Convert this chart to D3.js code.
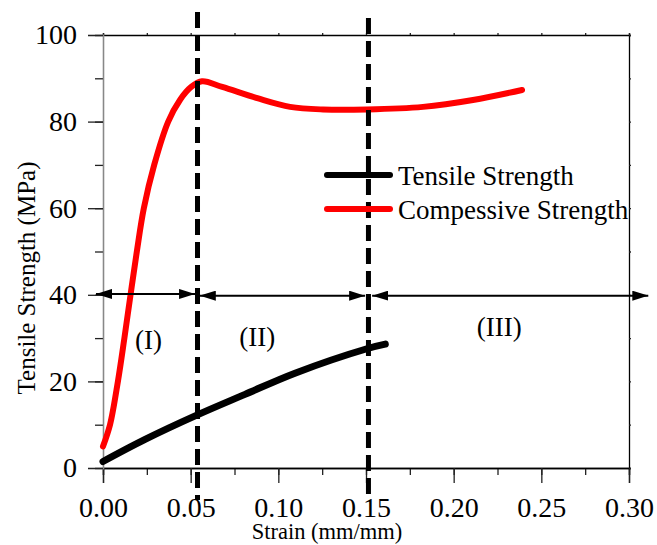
<!DOCTYPE html>
<html>
<head>
<meta charset="utf-8">
<script src="https://cdn.jsdelivr.net/npm/d3@7"></script>
<style>
  body { margin: 0; background: #fff; }
  svg text { font-family: "Liberation Serif", "Times New Roman", serif; }
</style>
</head>
<body>
<div id="chart"></div>
<script>
// Data
const compStrain = [0, 0.004, 0.0085, 0.0122, 0.0157, 0.0193, 0.0233, 0.0292, 0.0372, 0.0439, 0.0503, 0.0565, 0.068, 0.088, 0.1067, 0.1255, 0.1505, 0.1825, 0.211, 0.239];
const compStress = [5, 10, 20, 30, 40, 50, 60, 70, 80, 85.0, 88.0, 89.3, 88.0, 85.4, 83.4, 82.8, 82.8, 83.4, 85.0, 87.3];

const tensStrain = [0, 0.024, 0.0535, 0.081, 0.1095, 0.151, 0.161];
const tensStress = [1.5, 6.6, 12.2, 17.0, 21.9, 27.6, 28.6];

const dividers = [0.0539, 0.1514];
const regionLabels = ["(I)", "(II)", "(III)"];
const regionX = [0.026, 0.088, 0.226];
const regionY = [27.5, 28.2, 30.5];
// double arrows: [from, to] in strain, at stress level
const arrowFrom = [-0.004, 0.0552, 0.1535];
const arrowTo = [0.0525, 0.1495, 0.311];
const arrowY = [40.2, 39.8, 39.8];

const xTicks = [0, 0.05, 0.10, 0.15, 0.20, 0.25, 0.30];
const yTicks = [0, 20, 40, 60, 80, 100];

const seriesNames = ["Tensile Strength", "Compessive Strength"];
const seriesColors = ["#000000", "#ff0000"];

const serif = "Liberation Serif";

const svgWidth = 657;
const svgHeight = 545;
const margin = { top: 35, right: 28, bottom: 77, left: 103 };
const width = svgWidth - margin.left - margin.right;
const height = svgHeight - margin.top - margin.bottom;

const svg = d3.select("#chart")
  .append("svg")
  .attr("width", svgWidth)
  .attr("height", svgHeight);

const defs = svg.append("defs");
defs.append("marker")
  .attr("id", "head")
  .attr("viewBox", "0 0 16 10")
  .attr("refX", 16)
  .attr("refY", 5)
  .attr("markerWidth", 16)
  .attr("markerHeight", 10)
  .attr("markerUnits", "userSpaceOnUse")
  .attr("orient", "auto-start-reverse")
  .append("path")
  .attr("d", "M0,0L16,5L0,10Z")
  .attr("fill", "#000");

const g = svg.append("g")
  .attr("transform", `translate(${margin.left}, ${margin.top})`);

const x = d3.scaleLinear().domain([0, 0.30]).range([0, width]);
const y = d3.scaleLinear().domain([0, 100]).range([height, 0]);

// Axes
const bottomMinor = d3.axisBottom(x).tickValues(d3.range(0, 0.3001, 0.025)).tickSize(7).tickFormat("");
const bottomMajor = d3.axisBottom(x).tickValues(xTicks).tickSize(15).tickPadding(14).tickFormat(d3.format(".2f"));
const leftMinor = d3.axisLeft(y).tickValues(d3.range(0, 101, 10)).tickSize(8).tickFormat("");
const leftMajor = d3.axisLeft(y).tickValues(yTicks).tickSize(15).tickPadding(11).tickFormat(d3.format("d"));
const topAxis = d3.axisTop(x).tickValues(d3.range(0, 0.3001, 0.025)).tickSize(2).tickFormat("");
const rightAxis = d3.axisRight(y).tickValues(d3.range(0, 101, 10)).tickSize(2).tickFormat("");

function styleAxis(sel, color) {
  sel.attr("font-family", null).attr("font-size", null);
  sel.selectAll(".domain").attr("stroke", color).attr("stroke-width", 1.3);
  sel.selectAll(".tick line").attr("stroke", "#222").attr("stroke-width", 1.3);
  sel.selectAll(".tick text")
    .attr("fill", "#000")
    .style("font-family", serif)
    .style("font-size", "28px");
}

g.append("g").attr("transform", `translate(0, ${height})`).call(bottomMinor).call(s => styleAxis(s, "#000"));
g.append("g").attr("transform", `translate(0, ${height})`).call(bottomMajor).call(s => styleAxis(s, "#000"));
g.append("g").call(topAxis).call(s => styleAxis(s, "#000"));
g.append("g").attr("transform", `translate(${width}, 0)`).call(rightAxis).call(s => styleAxis(s, "#000"));
g.append("g").call(leftMinor).call(s => styleAxis(s, "#888"));
g.append("g").call(leftMajor).call(s => styleAxis(s, "#888"));

// Curves
const line = d3.line()
  .x(d => x(d[0]))
  .y(d => y(d[1]))
  .curve(d3.curveCatmullRom.alpha(0.5));

const tensData = d3.zip(tensStrain, tensStress);
const compData = d3.zip(compStrain, compStress);

g.append("path")
  .datum(compData)
  .attr("d", line)
  .attr("fill", "none")
  .attr("stroke", seriesColors[1])
  .attr("stroke-width", 6)
  .attr("stroke-linecap", "round");

g.append("path")
  .datum(tensData)
  .attr("d", line)
  .attr("fill", "none")
  .attr("stroke", seriesColors[0])
  .attr("stroke-width", 7)
  .attr("stroke-linecap", "round");

// Double arrows
g.selectAll("line.arrow")
  .data(d3.range(arrowFrom.length))
  .enter()
  .append("line")
  .attr("class", "arrow")
  .attr("x1", i => x(arrowFrom[i]))
  .attr("x2", i => x(arrowTo[i]))
  .attr("y1", i => y(arrowY[i]))
  .attr("y2", i => y(arrowY[i]))
  .attr("stroke", "#000")
  .attr("stroke-width", 2)
  .attr("marker-start", "url(#head)")
  .attr("marker-end", "url(#head)");

// Dashed dividers
g.selectAll("line.divider")
  .data(dividers)
  .enter()
  .append("line")
  .attr("class", "divider")
  .attr("x1", d => x(d))
  .attr("x2", d => x(d))
  .attr("y1", (d, i) => i === 0 ? -23 : -17)
  .attr("y2", height + 32)
  .attr("stroke", "#000")
  .attr("stroke-width", 5)
  .attr("stroke-dasharray", "16,7");

// Region labels
g.selectAll("text.region")
  .data(regionLabels)
  .enter()
  .append("text")
  .attr("class", "region")
  .attr("x", (d, i) => x(regionX[i]))
  .attr("y", (d, i) => y(regionY[i]))
  .attr("text-anchor", "middle")
  .style("font-size", "27px")
  .text(d => d);

// Legend
const legend = g.append("g").attr("transform", "translate(224, 140)");
seriesNames.forEach((name, i) => {
  const row = legend.append("g").attr("transform", `translate(0, ${i * 34})`);
  row.append("line")
    .attr("x1", 0).attr("x2", 63)
    .attr("stroke", seriesColors[i])
    .attr("stroke-width", 6)
    .attr("stroke-linecap", "round");
  row.append("text")
    .attr("x", 71)
    .attr("y", 10)
    .style("font-size", "27px")
    .text(name);
});

// Axis titles
g.append("text")
  .attr("x", 224)
  .attr("y", height + 71)
  .attr("text-anchor", "middle")
  .style("font-size", "22.5px")
  .text("Strain (mm/mm)");

g.append("text")
  .attr("transform", `translate(${35 - margin.left}, ${243}) rotate(-90)`)
  .attr("text-anchor", "middle")
  .style("font-size", "25px")
  .text("Tensile Strength (MPa)");
</script>
</body>
</html>
